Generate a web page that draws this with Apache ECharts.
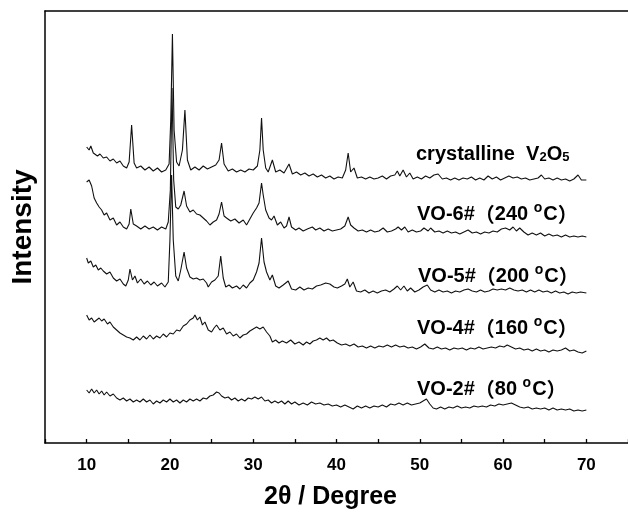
<!DOCTYPE html>
<html>
<head>
<meta charset="utf-8">
<script src="https://cdn.jsdelivr.net/npm/echarts@6/dist/echarts.min.js"></script>
<style>
  html, body { margin: 0; padding: 0; background: #fff; }
  #chart { width: 628px; height: 513px; }
</style>
</head>
<body>
<div id="chart"></div>
<script>
// x: 2theta (degree), y: intensity (a.u., offset per pattern as in the figure)
var crystalline = [[10,296],[10.3,293],[10.5,297],[10.8,290],[11,292],[11.3,287],[11.6,289],[12,285],[12.4,286],[12.8,282],[13.2,284],[13.6,280],[14,282],[14.4,277],[14.8,275],[15.1,281],[15.4,318],[15.7,280],[16,275],[16.5,277],[17,273],[17.5,276],[18,272],[18.5,275],[19,271],[19.5,273],[19.9,279],[20.1,323],[20.3,409],[20.5,313],[20.8,281],[21.1,277],[21.5,293],[21.8,333],[22.1,283],[22.5,273],[23,276],[23.5,273],[24,277],[24.5,274],[25,276],[25.5,278],[25.9,283],[26.2,300],[26.5,279],[27,272],[27.5,274],[28,271],[28.5,273],[29,271],[29.5,274],[30,273],[30.5,277],[30.8,293],[31,325],[31.2,293],[31.5,275],[31.8,271],[32.3,283],[32.7,271],[33.2,273],[33.7,270],[34.3,279],[34.7,269],[35.2,271],[35.7,268],[36.2,270],[36.7,267],[37.2,269],[37.7,266],[38.2,268],[38.7,265],[39.2,267],[39.7,264],[40.2,266],[40.7,265],[41.1,273],[41.4,290],[41.7,271],[42.1,275],[42.5,265],[43,266],[43.5,264],[44,266],[44.5,264],[45,265],[45.5,267],[46,264],[46.5,267],[47,268],[47.3,272],[47.6,267],[48,273],[48.4,266],[48.8,270],[49.2,264],[49.7,266],[50.2,264],[50.7,267],[51.2,265],[51.7,268],[52.2,269],[52.7,264],[53.2,265],[53.7,263],[54.2,265],[54.7,263],[55.2,265],[55.7,264],[56.2,266],[56.7,263],[57.2,265],[57.7,263],[58.2,267],[58.7,264],[59.2,266],[59.7,263],[60.2,265],[60.7,267],[61.2,265],[61.7,266],[62.2,264],[62.7,265],[63.2,263],[63.7,264],[64.2,265],[64.6,268],[65,264],[65.5,265],[66,263],[66.5,265],[67,263],[67.5,264],[68,262],[68.5,264],[69,268],[69.4,263],[70,263]];

var vo6 = [[10,261],[10.3,263],[10.6,257],[10.9,245],[11.2,240],[11.5,236],[11.8,233],[12.1,228],[12.4,230],[12.8,223],[13.2,225],[13.6,218],[14,221],[14.4,216],[14.8,214],[15.1,219],[15.3,234],[15.6,219],[16,217],[16.5,214],[17,217],[17.5,214],[18,216],[18.5,213],[19,216],[19.5,214],[19.8,221],[20.05,253],[20.25,355],[20.45,263],[20.7,236],[21,234],[21.3,238],[21.7,252],[22,237],[22.4,231],[22.8,233],[23.2,229],[23.6,228],[24,225],[24.4,222],[24.8,218],[25.2,221],[25.6,223],[25.9,229],[26.2,241],[26.5,227],[26.8,225],[27.3,222],[27.8,224],[28.3,220],[28.8,223],[29.2,218],[29.6,224],[30,230],[30.4,235],[30.7,240],[31,260],[31.2,248],[31.5,233],[31.9,225],[32.2,223],[32.5,227],[32.9,218],[33.3,221],[33.7,215],[34,217],[34.3,226],[34.6,216],[35.1,213],[35.5,215],[36,212],[36.5,214],[37.1,216],[37.5,213],[38,215],[38.5,212],[39,214],[39.5,212],[40,213],[40.5,214],[41,217],[41.4,226],[41.7,218],[42.1,215],[42.6,212],[43.1,213],[43.6,211],[44.1,213],[44.6,211],[45.1,212],[45.6,215],[46.1,211],[46.6,212],[47.1,214],[47.4,216],[47.8,213],[48.2,216],[48.6,211],[49.1,213],[49.6,211],[50.1,212],[50.5,215],[51,212],[51.3,215],[51.8,211],[52.3,212],[52.8,210],[53.3,212],[53.8,210],[54.3,211],[54.8,209],[55.3,211],[55.8,213],[56.3,210],[56.8,211],[57.3,209],[57.8,211],[58.3,210],[58.8,212],[59.3,211],[59.8,214],[60.3,215],[60.8,213],[61.2,216],[61.6,212],[62,215],[62.5,211],[63,208],[63.5,210],[64,208],[64.5,210],[65,207],[65.5,209],[66,207],[66.5,208],[67,206],[67.5,208],[68,206],[68.5,207],[69,206],[69.5,207],[70,206]];

var vo5 = [[10,185],[10.2,180],[10.5,182],[10.8,176],[11.1,178],[11.4,173],[11.7,175],[12,172],[12.4,169],[12.8,171],[13.2,165],[13.6,162],[14,164],[14.4,159],[14.7,157],[15,163],[15.2,174],[15.5,163],[15.8,167],[16.1,160],[16.5,164],[16.9,159],[17.3,162],[17.7,158],[18.1,161],[18.5,157],[19,160],[19.4,156],[19.8,161],[20,203],[20.2,268],[20.4,203],[20.7,167],[21,162],[21.3,173],[21.7,191],[22,175],[22.4,166],[22.8,164],[23.2,165],[23.6,163],[24,164],[24.4,160],[24.6,156],[25,161],[25.4,163],[25.8,167],[26.1,187],[26.4,165],[26.7,156],[27.1,158],[27.5,155],[28,157],[28.4,154],[28.8,158],[29.2,155],[29.6,160],[30,163],[30.4,171],[30.7,180],[31,205],[31.3,181],[31.6,171],[32,163],[32.3,168],[32.7,157],[33.1,155],[33.6,158],[34.2,162],[34.6,154],[35.1,153],[35.6,156],[36.1,153],[36.6,155],[37.1,154],[37.6,157],[38.1,158],[38.7,160],[39.2,159],[39.7,156],[40.1,155],[40.6,157],[41,159],[41.3,164],[41.6,156],[42,161],[42.4,152],[42.9,151],[43.4,153],[43.9,150],[44.4,152],[44.9,150],[45.4,152],[45.9,153],[46.4,151],[46.9,154],[47.3,157],[47.7,153],[48.1,157],[48.5,152],[48.9,155],[49.4,151],[49.9,153],[50.4,156],[50.9,158],[51.3,153],[51.8,151],[52.3,153],[52.8,151],[53.3,152],[53.8,150],[54.3,152],[54.8,151],[55.3,153],[55.8,154],[56.3,152],[56.8,151],[57.3,153],[57.8,151],[58.3,152],[58.8,154],[59.3,153],[59.8,154],[60.3,153],[60.8,155],[61.3,153],[61.8,152],[62.3,153],[62.8,151],[63.3,153],[63.8,151],[64.3,153],[64.8,151],[65.3,152],[65.8,150],[66.3,152],[66.8,150],[67.3,151],[67.8,149],[68.3,151],[68.8,150],[69.3,151],[70,150]];

var vo4 = [[10,128],[10.3,123],[10.6,125],[10.9,121],[11.2,123],[11.5,125],[11.8,122],[12.1,124],[12.5,119],[12.8,121],[13.2,116],[13.6,113],[14,110],[14.4,108],[14.8,106],[15.2,105],[15.6,103],[16,106],[16.4,103],[16.8,107],[17.2,104],[17.6,108],[18,104],[18.4,107],[18.8,105],[19.2,109],[19.6,106],[20,110],[20.4,109],[20.8,113],[21.2,112],[21.6,117],[22,119],[22.4,123],[22.8,125],[23,128],[23.3,123],[23.6,126],[23.9,118],[24.2,121],[24.6,113],[25,111],[25.3,115],[25.6,118],[26,113],[26.4,115],[26.8,109],[27.2,111],[27.6,107],[28,109],[28.4,105],[28.8,108],[29.2,109],[29.6,112],[30,114],[30.4,116],[30.8,114],[31.2,116],[31.6,111],[32,107],[32.3,101],[32.7,103],[33.1,100],[33.5,102],[34,100],[34.5,103],[35,99],[35.5,101],[36,98],[36.4,101],[36.8,99],[37.2,102],[37.6,103],[38,105],[38.4,103],[38.8,105],[39.2,102],[39.6,103],[40.1,100],[40.6,98],[41.1,99],[41.6,97],[42.1,99],[42.6,96],[43.1,97],[43.6,95],[44.1,97],[44.6,95],[45.1,97],[45.6,96],[46.1,98],[46.6,96],[47.1,98],[47.6,96],[48.1,97],[48.6,95],[49.1,96],[49.6,94],[50.1,96],[50.6,99],[51.1,95],[51.6,94],[52.1,96],[52.6,94],[53.1,95],[53.6,93],[54.1,95],[54.6,94],[55.1,95],[55.6,93],[56.1,95],[56.6,94],[57.1,96],[57.6,94],[58.1,95],[58.6,96],[59.1,95],[59.6,97],[60.1,96],[60.5,98],[61,96],[61.5,94],[62,95],[62.5,93],[63,94],[63.5,92],[64,94],[64.5,92],[65,93],[65.5,91],[66,93],[66.5,92],[67,93],[67.5,95],[68,92],[68.5,93],[69,91],[69.5,90],[70,92]];

var vo2 = [[10,53],[10.3,50],[10.6,54],[10.9,50],[11.2,53],[11.5,49],[11.8,52],[12.1,48],[12.4,51],[12.8,47],[13.2,49],[13.6,45],[14,43],[14.4,45],[14.8,42],[15.2,44],[15.6,41],[16,43],[16.4,41],[16.8,44],[17.2,41],[17.6,43],[18,39],[18.4,42],[18.8,40],[19.2,43],[19.6,41],[20,44],[20.4,41],[20.8,43],[21.2,40],[21.6,43],[22,41],[22.4,44],[22.8,42],[23.2,44],[23.6,42],[24,45],[24.4,44],[24.8,47],[25.2,48],[25.6,51],[25.9,50],[26.2,47],[26.6,45],[27,46],[27.4,43],[27.8,45],[28.2,42],[28.6,44],[29,42],[29.4,45],[29.8,44],[30.2,46],[30.6,44],[31,46],[31.4,42],[31.8,43],[32.2,40],[32.6,42],[33,40],[33.4,42],[33.8,39],[34.2,42],[34.6,39],[35,41],[35.5,38],[36,40],[36.5,38],[37,41],[37.5,39],[38,40],[38.5,38],[39,39],[39.5,37],[40,38],[40.5,36],[41,38],[41.5,36],[42,34],[42.5,37],[43,35],[43.5,37],[44,35],[44.5,37],[45,36],[45.5,38],[46,36],[46.5,39],[47,38],[47.5,40],[48,38],[48.5,40],[49,38],[49.5,39],[50,40],[50.4,42],[50.8,44],[51.2,39],[51.6,35],[52,34],[52.5,36],[53,34],[53.5,36],[54,35],[54.5,37],[55,35],[55.5,36],[56,35],[56.5,37],[57,36],[57.5,37],[58,36],[58.5,38],[59,37],[59.5,39],[60,38],[60.5,39],[61,40],[61.5,38],[62,36],[62.5,35],[63,36],[63.5,34],[64,35],[64.5,34],[65,35],[65.5,33],[66,35],[66.5,33],[67,34],[67.5,33],[68,34],[68.5,32],[69,33],[69.5,32],[70,33]];

var patterns = [crystalline, vo6, vo5, vo4, vo2];

var chart = echarts.init(document.getElementById('chart'));
var font = "'Liberation Sans', Arial, 'Noto Sans CJK SC', sans-serif";

var labelRich = {
  b: { fontSize: 20, fontWeight: 'bold', fontFamily: font, color: '#000' },
  p: { fontSize: 20, fontWeight: 'bold', fontFamily: "'Noto Sans CJK SC', sans-serif", color: '#000' },
  o: { fontSize: 14, fontWeight: 'bold', fontFamily: font, color: '#000', padding: [0, 1, 12, 0] },
  s: { fontSize: 13, fontWeight: 'bold', fontFamily: font, color: '#000', padding: [6, 0, 0, 0] }
};

function tag(x, y, text) {
  return {
    type: 'text', left: x, top: y - 14, silent: true,
    style: { text: text, rich: labelRich, fill: '#000' }
  };
}

var option = {
  animation: false,
  backgroundColor: '#fff',
  grid: { left: 45, right: 0, top: 11, bottom: 70, containLabel: false, outerBoundsMode: 'none' },
  xAxis: [{
    type: 'value', min: 5, max: 75, interval: 5,
    name: '2θ / Degree', nameLocation: 'middle', nameGap: 42,
    nameTextStyle: { fontSize: 25, fontWeight: 'bold', fontFamily: font, color: '#000', padding: [0, 12, 0, 0] },
    axisLine: { lineStyle: { color: '#000', width: 1.5 } },
    axisTick: { inside: true, length: 4, lineStyle: { color: '#000', width: 1.3 } },
    axisLabel: {
      margin: 14, fontSize: 17, fontWeight: 'bold', fontFamily: font, color: '#000',
      formatter: function (v) { return v % 10 === 0 ? String(v) : ''; }
    },
    splitLine: { show: false }
  }, {
    type: 'value', min: 5, max: 75, position: 'top',
    axisLine: { lineStyle: { color: '#000', width: 1.5 } },
    axisTick: { show: false }, axisLabel: { show: false }, splitLine: { show: false }
  }],
  yAxis: {
    type: 'value', min: 0, max: 432,
    name: 'Intensity', nameLocation: 'middle', nameGap: 8,
    nameTextStyle: { fontSize: 28, fontWeight: 'bold', fontFamily: font, color: '#000' },
    axisLine: { show: true, lineStyle: { color: '#000', width: 1.5 } },
    axisTick: { show: false }, axisLabel: { show: false }, splitLine: { show: false }
  },
  series: patterns.map(function (d) {
    return {
      type: 'line', data: d, symbol: 'none', silent: true,
      lineStyle: { color: '#111', width: 1.1 }
    };
  }),
  graphic: [
    tag(416, 158, '{b|crystalline  V}{s|2}{b|O}{s|5}'),
    tag(417, 215, '{b|VO-6#}{p|（}{b|240 }{o|o}{b|C}{p|）}'),
    tag(418, 277, '{b|VO-5#}{p|（}{b|200 }{o|o}{b|C}{p|）}'),
    tag(417, 329, '{b|VO-4#}{p|（}{b|160 }{o|o}{b|C}{p|）}'),
    tag(417, 390, '{b|VO-2#}{p|（}{b|80 }{o|o}{b|C}{p|）}')
  ]
};

chart.setOption(option);
</script>
</body>
</html>
